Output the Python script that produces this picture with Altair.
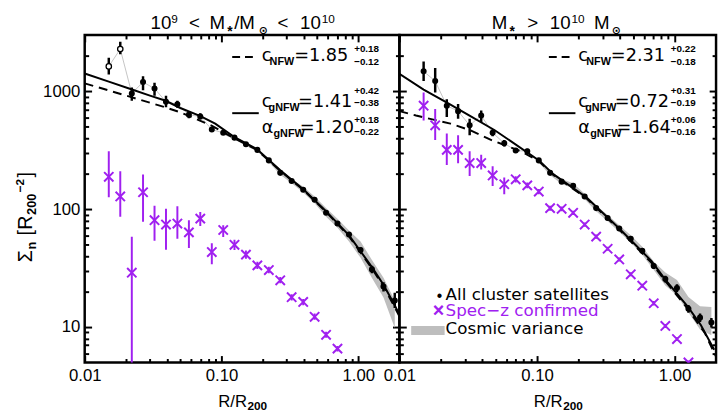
import altair as alt
import pandas as pd

FONT = "Liberation Sans"
WFONT = "DejaVu Sans"
PURPLE = "#A020F0"
GREY = "#BEBEBE"

# ---------------- data ----------------
R_BIN = [0.0150, 0.0182, 0.0221, 0.0267, 0.0324, 0.0393, 0.0476, 0.0578, 0.0700, 0.0850,
         0.1030, 0.1245, 0.1510, 0.1830, 0.2220, 0.2690, 0.3260, 0.3960, 0.4800, 0.5820,
         0.7050, 0.8560, 1.0400, 1.2600, 1.5300, 1.8500]

# left panel  (1e9 < M* < 1e10)
L_ALL = [1625, 2280, 957, 1196, 1053, 815, 774, 631, 611, 473, 444, 404, 355, 318, 259, 203,
         173, 146, 120, 93, 75.4, 61, 44.9, 30.8, 22, 16.8]
L_ALL_LO = [1386, 2060, 830, 1019, 914, 731, 725, 590, 575, 450, 425, 390, 344, 308, 252, 197,
            168, 142, 116, 90, 72, 58.5, 42.5, 28.5, 20, 14.5]
L_ALL_HI = [1920, 2625, 1074, 1343, 1181, 914, 830, 670, 650, 497, 465, 420, 366, 328, 266, 209,
            178, 150, 124, 96, 79, 63.5, 47.5, 33, 24, 19.5]
L_OPEN = [1, 1] + [0] * 24
L_SPEC = [188, 128, 28.9, 139, 80.5, 74, 75.4, 63.5, 83, 43.2, 66.5, 49.8, 41.1, 33.3, 30.4,
          24.9, 17.9, 16.3, 12.2, 8.58, 6.55]
L_SPEC_LO = [126, 86, 1, 78, 53.8, 45.3, 56, 46.7, 72, 34, 58, 45, 38, 31, 28.5, 23.5, 16.8,
             15.3, 11.5, 8.1, 6.2]
L_SPEC_HI = [309, 210, 58.4, 197, 107, 100.6, 106, 80.5, 94.4, 51.4, 73, 55, 44.5, 35.8, 32.5,
             26.5, 19, 17.3, 13, 9.1, 6.9]
L_NFW_X = [0.01, 0.0219, 0.0391, 0.05, 0.0846, 0.1235, 0.182, 0.268, 0.398, 0.581, 0.86, 1.26,
           1.53, 1.80, 2.0]
L_NFW_Y = [1166, 891, 729, 662, 511, 400, 318, 212, 145, 95, 58.5, 31.3, 22, 15.6, 12.3]
L_GNFW_X = [0.01, 0.015, 0.0219, 0.030, 0.0391, 0.05, 0.0695, 0.09, 0.1235, 0.182, 0.268, 0.398,
            0.581, 0.86, 1.26, 1.53, 1.80, 2.0]
L_GNFW_Y = [1413, 1207, 1039, 917, 830, 721, 619, 531, 410, 322, 215, 147, 96.2, 59.6, 32.2,
            22.8, 16.2, 12.8]
L_CV_X = [0.1030, 0.1245, 0.1510, 0.1830, 0.2220, 0.2690, 0.3260, 0.3960, 0.4800, 0.5820,
          0.7050, 0.8560, 1.0400, 1.2600, 1.5300, 1.8500]
L_CV_LO = [430, 392, 344, 308, 250, 196, 166, 138, 112, 86, 69.5, 53, 38.6, 26, 17.8, 9.8]
L_CV_HI = [458, 416, 366, 328, 268, 211, 181, 155, 128, 102, 83, 66, 53, 37, 26.2, 16.8]

# right panel  (M* > 1e10)
R_ALL = [1476, 1219, 754, 678, 514, 622, 444, 362, 314, 310, 259, 203, 171, 158, 128, 102, 84,
         68.5, 56, 44.4, 32.9, 25.5, 21.4, 14.3, 12, 10.9]
R_ALL_LO = [1219, 975, 604, 584, 424, 549, 415, 340, 300, 295, 248, 195, 164, 152, 123, 98, 80.5,
            65.5, 53.5, 42, 31, 23.8, 19.8, 13.2, 11, 9.9]
R_ALL_HI = [1788, 1576, 857, 779, 584, 685, 475, 385, 330, 325, 270, 211, 178, 164, 133, 106, 87.5,
            71.5, 58.5, 46.8, 34.8, 27.2, 23, 15.4, 13, 11.9]
R_OPEN = [0] * 26
R_SPEC = [754, 514, 318, 318, 246, 246, 193, 162.5, 179, 159, 141, 102, 100.6, 93, 74, 58.4, 46.1,
          37.4, 28, 22.4, 15.9, 10.2, 7.9, 5.0]
R_SPEC_LO = [565, 385, 237, 245, 191, 217, 157, 134, 168, 150, 134, 97, 96, 89, 71, 56, 44.3,
             35.9, 26.9, 21.5, 15.2, 9.8, 7.6, 4.8]
R_SPEC_HI = [975, 708, 438, 424, 310, 289, 231, 185, 190, 168, 148, 107, 105, 97, 77, 60.8, 48,
             38.9, 29.1, 23.3, 16.6, 10.6, 8.2, 5.2]
R_NFW_X = [0.01, 0.0132, 0.0235, 0.0327, 0.0467, 0.0765, 0.1033, 0.132, 0.228, 0.396, 0.68, 0.85,
           1.25, 1.66, 2.0]
R_NFW_Y = [678, 622, 531, 467, 385, 309, 255, 194, 124, 67, 35, 24.8, 14.2, 8.86, 5.6]
R_GNFW_X = [0.01, 0.015, 0.0225, 0.0333, 0.0493, 0.1033, 0.132, 0.228, 0.396, 0.68, 0.85, 1.25,
            1.55, 1.94]
R_GNFW_Y = [1405, 1033, 794, 610, 467, 259, 197, 126, 68.5, 36.2, 25.5, 14.8, 10.4, 6.4]
R_CV_X = L_CV_X
R_CV_LO = [248, 194, 163, 150, 121, 96, 79, 64, 52, 41, 30.5, 22.5, 18.5, 13.3, 9.5, 8.5]
R_CV_HI = [270, 212, 180, 166, 135, 108, 89, 73, 60, 48, 36, 29, 25, 18, 15, 14.8]

X_MAJOR = [0.01, 0.1, 1.0]
X_MINOR = [0.02, 0.03, 0.04, 0.05, 0.06, 0.07, 0.08, 0.09,
           0.2, 0.3, 0.4, 0.5, 0.6, 0.7, 0.8, 0.9]
Y_MAJOR = [10, 100, 1000]
Y_MINOR = [6, 7, 8, 9, 20, 30, 40, 50, 60, 70, 80, 90,
           200, 300, 400, 500, 600, 700, 800, 900, 2000]

H = 333
ONE = pd.DataFrame({"k": [0]})
XS = alt.Scale(type="log", domain=[0.01, 2.0], nice=False)
YS = alt.Scale(type="log", domain=[5, 3000], nice=False)


def ax(orient, vals, size, labels=False, fmt=None):
    d = dict(orient=orient, values=vals, tickSize=size, offset=-size, domain=False, grid=False,
             labels=labels, ticks=True, tickColor="black", tickWidth=2, minExtent=0, title=None)
    if labels:
        d.update(labelFont=FONT, labelFontSize=17, labelColor="black", labelPadding=5,
                 format=fmt, labelFlush=False, labelOverlap=False)
    return alt.Axis(**d)


def T(s, x, y, size=18, font=WFONT, weight="normal", color="black", align="left", angle=0):
    return alt.Chart(ONE).mark_text(text=s, font=font, fontSize=size, fontWeight=weight,
                                    color=color, align=align, baseline="alphabetic",
                                    angle=angle).encode(x=alt.value(x), y=alt.value(y))


def hline(x1, x2, y, dash=None):
    kw = dict(color="black", strokeWidth=2)
    if dash:
        kw["strokeDash"] = dash
    return alt.Chart(ONE).mark_rule(**kw).encode(x=alt.value(x1), x2=alt.value(x2), y=alt.value(y))


def annotations(x0, vals):
    (c1, p1, m1), (c2, p2, m2), (a3, p3, m3) = vals
    sub = dict(font=FONT, size=11, weight="bold")
    sc = dict(font=FONT, size=10, weight="bold")
    L = [
        hline(x0 + 150, x0 + 172, 22.3, [8, 5]),
        T("c", x0 + 180, 26), T("NFW", x0 + 188, 30.5, **sub), T("=" + c1, x0 + 213, 26),
        T(p1, x0 + 274, 17.3, **sc), T(m1, x0 + 274, 30.7, **sc),
        hline(x0 + 150, x0 + 177, 79.5),
        T("c", x0 + 180, 73), T("gNFW", x0 + 187, 77, **sub), T("=" + c2, x0 + 217, 73),
        T(p2, x0 + 274, 60.3, **sc), T(m2, x0 + 274, 72.5, **sc),
        T("α", x0 + 180, 100), T("gNFW", x0 + 192, 104, **sub), T("=" + a3, x0 + 218.7, 100),
        T(p3, x0 + 274, 89, **sc), T(m3, x0 + 274, 102, **sc),
    ]
    return L


def panel(side, W):
    if side == "L":
        allv, lo, hi, opn = L_ALL, L_ALL_LO, L_ALL_HI, L_OPEN
        sp, slo, shi = L_SPEC, L_SPEC_LO, L_SPEC_HI
        nx, ny, gx, gy = L_NFW_X, L_NFW_Y, L_GNFW_X, L_GNFW_Y
        cx, clo, chi = L_CV_X, L_CV_LO, L_CV_HI
    else:
        allv, lo, hi, opn = R_ALL, R_ALL_LO, R_ALL_HI, R_OPEN
        sp, slo, shi = R_SPEC, R_SPEC_LO, R_SPEC_HI
        nx, ny, gx, gy = R_NFW_X, R_NFW_Y, R_GNFW_X, R_GNFW_Y
        cx, clo, chi = R_CV_X, R_CV_LO, R_CV_HI

    d_all = pd.DataFrame({"x": R_BIN, "y": allv, "lo": lo, "hi": hi, "open": opn})
    d_sp = pd.DataFrame({"x": R_BIN[:len(sp)], "y": sp, "lo": slo, "hi": shi})
    d_n = pd.DataFrame({"x": nx, "y": ny})
    d_g = pd.DataFrame({"x": gx, "y": gy})
    d_cv = pd.DataFrame({"x": cx, "lo": clo, "hi": chi})

    def X(axis=None):
        return alt.X("x:Q", scale=XS, axis=axis)

    def Y(f, axis=None):
        return alt.Y(f + ":Q", scale=YS, axis=axis)

    ylab = side == "L"
    band = alt.Chart(d_cv).mark_area(color=GREY, opacity=1, clip=True).encode(
        x=X(ax("bottom", X_MAJOR, 7, True, ".2f")),
        y=Y("lo", ax("left", Y_MAJOR, 7, ylab, "d")), y2="hi:Q")
    thin = alt.Chart(d_all).mark_line(color="#C4C4C4", strokeWidth=1, clip=True).encode(
        x=X(ax("bottom", X_MINOR, 4)), y=Y("y", ax("left", Y_MINOR, 4)))
    nfw = alt.Chart(d_n).mark_line(color="black", strokeWidth=2, strokeDash=[9, 6], clip=True).encode(
        x=X(ax("top", X_MAJOR, 7)), y=Y("y", ax("right", Y_MAJOR, 7)))
    gnfw = alt.Chart(d_g).mark_line(color="black", strokeWidth=2, clip=True).encode(
        x=X(ax("top", X_MINOR, 4)), y=Y("y", ax("right", Y_MINOR, 4)))
    err = alt.Chart(d_all).mark_rule(color="black", strokeWidth=2.5, clip=True).encode(
        x=X(), y=Y("lo"), y2="hi:Q")
    pts = alt.Chart(d_all).transform_filter("datum.open == 0").mark_point(
        shape="circle", filled=True, color="black", size=38, opacity=1, clip=True).encode(x=X(), y=Y("y"))
    layers = [band, thin, nfw, gnfw, err, pts]
    if side == "L":
        opts = alt.Chart(d_all).transform_filter("datum.open == 1").mark_point(
            shape="circle", filled=True, fill="white", stroke="black", strokeWidth=1.3,
            size=30, opacity=1, clip=True).encode(x=X(), y=Y("y"))
        layers.append(opts)
    serr = alt.Chart(d_sp).mark_rule(color=PURPLE, strokeWidth=2, clip=True).encode(
        x=X(), y=Y("lo"), y2="hi:Q")
    sx = alt.Chart(d_sp).mark_point(shape="M-1,-1L1,1M-1,1L1,-1", filled=False, color=PURPLE,
                                    strokeWidth=2, size=90, opacity=1, clip=True).encode(x=X(), y=Y("y"))
    layers += [serr, sx]

    # x axis title  R/R200
    layers += [T("R/R", W / 2 + 5, 378, size=17, font=FONT, align="right"),
               T("200", W / 2 + 5.5, 381.5, size=12, font=FONT, weight="bold")]

    TS, SS, TB, SB = 19, 12, -6.5, -12
    if side == "L":
        layers += annotations(0, [("1.85", "+0.18", "−0.12"), ("1.41", "+0.42", "−0.38"),
                                  ("1.20", "+0.18", "−0.22")])
        # panel title
        layers += [T("10", 67, TB, size=TS, font=FONT), T("9", 88, SB, size=SS, font=FONT),
                   T("<", 106, TB, size=TS, font=FONT), T("M", 127, TB, size=TS, font=FONT),
                   T("*", 145, 1, size=14, font=FONT, weight="bold"),
                   T("/M", 152, TB, size=TS, font=FONT),
                   T("⊙", 177, -1, size=11, font=WFONT, weight="bold"),
                   T("<", 196, TB, size=TS, font=FONT), T("10", 219, TB, size=TS, font=FONT),
                   T("10", 241, SB, size=SS, font=FONT)]
        # y axis title (rotated, reads bottom to top)
        yb = -54
        layers += [T("Σ", yb, 231, size=20, font=FONT, angle=270),
                   T("n", yb + 4, 218, size=13, font=FONT, weight="bold", angle=270),
                   T("[", yb, 204, size=20, font=FONT, angle=270),
                   T("R", yb, 198, size=20, font=FONT, angle=270),
                   T("200", yb + 4, 183, size=13, font=FONT, weight="bold", angle=270),
                   T("−2", yb - 8, 160, size=12, font=FONT, weight="bold", angle=270),
                   T("]", yb, 145, size=20, font=FONT, angle=270)]
    else:
        layers += annotations(2, [("2.31", "+0.22", "−0.18"), ("0.72", "+0.31", "−0.19"),
                                  ("1.64", "+0.06", "−0.16")])
        layers += [T("M", 94, TB, size=TS, font=FONT),
                   T("*", 112, 1, size=14, font=FONT, weight="bold"),
                   T(">", 130, TB, size=TS, font=FONT), T("10", 153, TB, size=TS, font=FONT),
                   T("10", 175, SB, size=SS, font=FONT), T("M", 198, TB, size=TS, font=FONT),
                   T("⊙", 216, -1, size=11, font=WFONT, weight="bold")]
        # legend
        layers += [T("•", 38, 270, size=16, font=FONT),
                   T("All cluster satellites", 47, 269.7, size=17),
                   T("×", 34, 287, size=20, font=FONT, weight="bold", color=PURPLE),
                   T("Spec−z confirmed", 47, 286, size=17, color=PURPLE),
                   alt.Chart(ONE).mark_rect(color=GREY).encode(
                       x=alt.value(12), x2=alt.value(46), y=alt.value(296), y2=alt.value(305)),
                   T("Cosmic variance", 47, 304, size=17)]

    return alt.layer(*layers).properties(width=W, height=H).resolve_axis(
        x="independent", y="independent")


chart = alt.hconcat(panel("L", 320), panel("R", 322), spacing=0, bounds="flush").configure_view(
    stroke="black", strokeWidth=2.5).properties(
    padding={"left": 4, "top": 0, "right": 0, "bottom": 0})

chart.save("out.html", embed_options={"renderer": "svg", "actions": False})
